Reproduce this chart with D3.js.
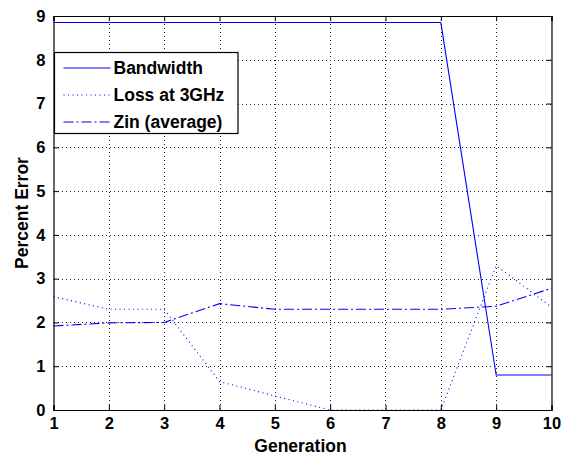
<!DOCTYPE html>
<html>
<head>
<meta charset="utf-8">
<script src="https://cdn.jsdelivr.net/npm/d3@7"></script>
<style>
  html, body { margin: 0; padding: 0; background: #fff; }
  svg { display: block; font-family: Arial, "Liberation Sans", sans-serif; }
</style>
</head>
<body>
<svg id="chart" width="571" height="460"></svg>
<script>
// Percent error per generation for the three tracked quantities
const generations = [1, 2, 3, 4, 5, 6, 7, 8, 9, 10];
const bandwidth   = [8.85, 8.85, 8.85, 8.85, 8.85, 8.85, 8.85, 8.85, 0.80, 0.80];
const lossAt3GHz  = [2.59, 2.30, 2.30, 0.65, 0.32, 0.00, 0.00, 0.00, 3.30, 2.35];
const zinAverage  = [1.92, 1.99, 2.00, 2.43, 2.30, 2.30, 2.30, 2.30, 2.37, 2.78];
const xTicks = [1, 2, 3, 4, 5, 6, 7, 8, 9, 10];
const yTicks = [0, 1, 2, 3, 4, 5, 6, 7, 8, 9];

const seriesList = [
  { name: "Bandwidth",      values: bandwidth,  dash: null },
  { name: "Loss at 3GHz",   values: lossAt3GHz, dash: "1,3.5" },
  { name: "Zin (average)",  values: zinAverage, dash: "10,3,2,3" }
];

const svg = d3.select("#chart");
const plot = { left: 53.5, right: 551.5, top: 16, bottom: 410 };

const x = d3.scaleLinear().domain([1, 10]).range([plot.left, plot.right]);
const y = d3.scaleLinear().domain([0, 9]).range([plot.bottom, plot.top]);

const lineColor = "#0000ff";

// dotted grid
const grid = svg.append("g").attr("stroke", "#222").attr("stroke-width", 1)
  .attr("stroke-dasharray", "1,3").attr("shape-rendering", "crispEdges");
grid.selectAll("line.gx").data(xTicks.slice(1, -1)).join("line")
  .attr("x1", d => Math.round(x(d)) + 0.5).attr("x2", d => Math.round(x(d)) + 0.5)
  .attr("y1", plot.top).attr("y2", plot.bottom);
grid.selectAll("line.gy").data(yTicks.slice(1, -1)).join("line")
  .attr("y1", d => Math.round(y(d)) + 0.5).attr("y2", d => Math.round(y(d)) + 0.5)
  .attr("x1", plot.left).attr("x2", plot.right);

// data lines
const line = d3.line().x((d, i) => x(generations[i])).y(d => y(d));
svg.append("g").selectAll("path").data(seriesList).join("path")
  .attr("d", s => line(s.values))
  .attr("fill", "none")
  .attr("stroke", lineColor)
  .attr("stroke-width", 1.1)
  .attr("stroke-dasharray", s => s.dash);

// axes (ticks point inward, box on all sides)
const tickLen = 5;
const fontTick = "bold 16.5px Arial, 'Liberation Sans', sans-serif";

const bottomAxis = svg.append("g")
  .attr("transform", `translate(0,${plot.bottom})`)
  .call(d3.axisBottom(x).tickValues(xTicks).tickSize(-tickLen).tickPadding(7).tickFormat(d3.format("d")));
const topAxis = svg.append("g")
  .attr("transform", `translate(0,${plot.top})`)
  .call(d3.axisTop(x).tickValues(xTicks).tickSize(-tickLen).tickFormat(""));
const leftAxis = svg.append("g")
  .attr("transform", `translate(${plot.left},0)`)
  .call(d3.axisLeft(y).tickValues(yTicks).tickSize(-tickLen).tickPadding(8).tickFormat(d3.format("d")));
const rightAxis = svg.append("g")
  .attr("transform", `translate(${plot.right},0)`)
  .call(d3.axisRight(y).tickValues(yTicks).tickSize(-tickLen).tickFormat(""));

[bottomAxis, topAxis, leftAxis, rightAxis].forEach(g => {
  g.select(".domain").attr("stroke", "#000").attr("stroke-width", 1.2);
  g.selectAll(".tick line").attr("stroke", "#000").attr("stroke-width", 1);
  g.selectAll(".tick text").attr("fill", "#000").style("font", fontTick);
});
bottomAxis.selectAll(".tick text").attr("dy", "0.71em");

// axis titles
svg.append("text")
  .attr("x", (plot.left + plot.right) / 2 - 2)
  .attr("y", 452)
  .attr("text-anchor", "middle")
  .style("font", "bold 17.5px Arial, 'Liberation Sans', sans-serif")
  .text("Generation");

svg.append("text")
  .attr("transform", `translate(27.5,${(plot.top + plot.bottom) / 2}) rotate(-90)`)
  .attr("text-anchor", "middle")
  .style("font", "bold 17.5px Arial, 'Liberation Sans', sans-serif")
  .text("Percent Error");

// legend
const legend = svg.append("g").attr("transform", "translate(54.5,52.5)");
legend.append("rect")
  .attr("width", 183.5).attr("height", 81)
  .attr("fill", "#fff").attr("stroke", "#000").attr("stroke-width", 1.2);
const items = legend.selectAll("g.item").data(seriesList).join("g")
  .attr("transform", (d, i) => `translate(0,${15.5 + i * 27})`);
items.append("line")
  .attr("x1", 9).attr("x2", 56).attr("y1", 0).attr("y2", 0)
  .attr("stroke", lineColor).attr("stroke-width", 1.1)
  .attr("stroke-dasharray", d => d.dash);
items.append("text")
  .attr("x", 59).attr("y", 0).attr("dy", "0.35em")
  .style("font", "bold 17.5px Arial, 'Liberation Sans', sans-serif")
  .attr("fill", "#000")
  .text(d => d.name);
</script>
</body>
</html>
